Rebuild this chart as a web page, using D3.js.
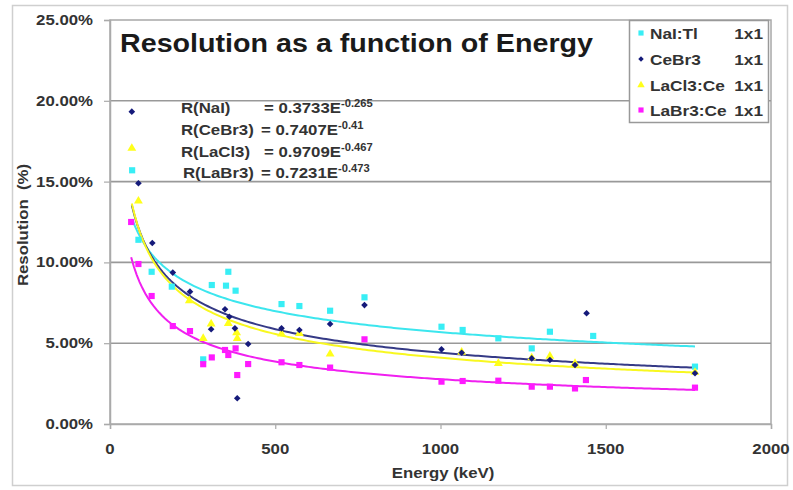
<!DOCTYPE html>
<html><head><meta charset="utf-8">
<script src="https://cdn.jsdelivr.net/npm/d3@7/dist/d3.min.js"></script>
<style>
body{margin:0;background:#fff;}
text{font-family:Arial,"Liberation Sans",sans-serif;font-weight:bold;white-space:pre;}
</style>
</head><body>
<svg id="c" width="793" height="490"></svg>
<script>
// ---------------- data ----------------
const seriesNames = ["NaI:Tl", "CeBr3", "LaCl3:Ce", "LaBr3:Ce"];
const seriesSizes = ["1x1", "1x1", "1x1", "1x1"];
const seriesColors = ["#38eef5", "#151a7a", "#ffff1a", "#ff1aff"];
const curveColors = ["#3ce6ee", "#353a86", "#f8f820", "#f020f0"];

// Energy (keV) and resolution (fraction)
const naiE = [67, 86, 126, 187, 282, 308, 351, 358, 380, 519, 573, 666, 770, 1003, 1067, 1175, 1276, 1331, 1462, 1770];
const naiR = [0.157, 0.114, 0.0942, 0.085, 0.040, 0.086, 0.0856, 0.0942, 0.0825, 0.0742, 0.073, 0.0701, 0.0784, 0.0602, 0.0582, 0.053, 0.0468, 0.0571, 0.0545, 0.0355];

const cebE = [66, 86, 128, 190, 242, 306, 348, 361, 378, 385, 418, 519, 573, 666, 770, 1003, 1064, 1276, 1331, 1407, 1442, 1770];
const cebR = [0.1933, 0.149, 0.112, 0.0937, 0.0819, 0.0586, 0.071, 0.0664, 0.0592, 0.0159, 0.0495, 0.0592, 0.0582, 0.0619, 0.0736, 0.0462, 0.0441, 0.0406, 0.0396, 0.0365, 0.0685, 0.0314];

const lacE = [66, 86, 240, 282, 306, 358, 383, 385, 519, 573, 666, 1064, 1175, 1276, 1331, 1407, 1770];
const lacR = [0.1706, 0.138, 0.0763, 0.053, 0.0619, 0.0623, 0.0565, 0.053, 0.0557, 0.056, 0.0433, 0.0445, 0.0375, 0.041, 0.042, 0.0375, 0.032];

const labE = [64, 86, 126, 190, 242, 282, 308, 348, 358, 380, 385, 418, 519, 573, 666, 770, 1003, 1067, 1175, 1276, 1331, 1407, 1440, 1770];
const labR = [0.125, 0.099, 0.0792, 0.0606, 0.0575, 0.037, 0.0412, 0.0458, 0.0427, 0.0468, 0.0303, 0.0371, 0.0382, 0.0365, 0.0349, 0.0524, 0.0262, 0.0266, 0.0268, 0.0231, 0.0231, 0.022, 0.0272, 0.0225];

// power trendline labels shown on the chart: R = a * E^b
const fitNames = ["R(NaI)", "R(CeBr3)", "R(LaCl3)", "R(LaBr3)"];
const fitALabels = ["0.3733", "0.7407", "0.9709", "0.7231"];
const fitBLabels = ["-0.265", "-0.41", "-0.467", "-0.473"];

const yTicks = [0, 0.05, 0.10, 0.15, 0.20, 0.25];
const xTicks = [0, 500, 1000, 1500, 2000];
const titleText = "Resolution as a function of Energy";
const xTitle = "Energy (keV)";
const yTitle = "Resolution  (%)";

// ---------------- layout ----------------
const svg = d3.select("#c");
const L = 110, R = 771, T = 20, B = 424;
const x = d3.scaleLinear().domain([0, 2000]).range([L, R]);
const y = d3.scaleLinear().domain([0, 0.25]).range([B, T]);
const SX = 1.2;

function txt(g, px, py, s, o = {}) {
  return g.append("text")
    .attr("transform", `translate(${px},${py}) rotate(${o.rot || 0}) scale(${o.sx || SX},1)`)
    .attr("text-anchor", o.anchor || "start")
    .style("font-size", (o.size || 14) + "px")
    .attr("fill", o.fill || "#333")
    .text(s);
}

// outer chart border
svg.append("rect").attr("x", 12.5).attr("y", 5.5).attr("width", 775).attr("height", 480)
  .attr("fill", "#fff").attr("stroke", "#cfcfcf").attr("stroke-width", 1.5);

// plot area
svg.append("rect").attr("x", L).attr("y", T).attr("width", R - L).attr("height", B - T)
  .attr("fill", "#fff").attr("stroke", "#a8a8a8").attr("stroke-width", 1.5);

// gridlines
svg.append("g").selectAll("line").data(yTicks.filter(d => d > 0 && d < 0.25)).join("line")
  .attr("x1", L).attr("x2", R).attr("y1", d => y(d)).attr("y2", d => y(d))
  .attr("stroke", "#999").attr("stroke-width", 1.6);

// axes
const yAxis = d3.axisLeft(y).tickValues(yTicks).tickSize(6).tickFormat("");
const xAxis = d3.axisBottom(x).tickValues(xTicks).tickSize(5).tickFormat("");
const gy = svg.append("g").attr("transform", `translate(${L},0)`).call(yAxis);
const gx = svg.append("g").attr("transform", `translate(0,${B})`).call(xAxis);
[gy, gx].forEach(g => {
  g.select(".domain").attr("stroke", "#aaa").attr("stroke-width", 1.5);
  g.selectAll(".tick line").attr("stroke", "#aaa").attr("stroke-width", 1.2);
});

const pct = d3.format(".2%");
yTicks.forEach(v => txt(svg, 93, y(v) + 5, pct(v), { anchor: "end", size: 14 }));
xTicks.forEach(v => txt(svg, x(v), 454, String(v), { anchor: "middle", size: 14 }));

txt(svg, 443, 478, xTitle, { anchor: "middle", size: 14 });
txt(svg, 28, 225, yTitle, { anchor: "middle", size: 14, rot: -90 });

// title
svg.append("text").attr("x", 120).attr("y", 52)
  .attr("textLength", 473).attr("lengthAdjust", "spacingAndGlyphs")
  .style("font-size", "25.5px").attr("fill", "#1a1a1a").text(titleText);

// trendlines: least-squares power fit (ln R vs ln E), as a spreadsheet does
const seriesE = [naiE, cebE, lacE, labE];
const seriesR = [naiR, cebR, lacR, labR];
function powerFit(E, Rv) {
  const lx = E.map(Math.log), ly = Rv.map(Math.log);
  const mx = d3.mean(lx), my = d3.mean(ly);
  const b = d3.sum(lx, (v, i) => (v - mx) * (ly[i] - my)) / d3.sum(lx, v => (v - mx) ** 2);
  const a = Math.exp(my - b * mx);
  return [a, b];
}
const line = d3.line().x(d => x(d[0])).y(d => y(d[1]));
[0, 1, 2, 3].forEach(i => {
  const [a, b] = powerFit(seriesE[i], seriesR[i]);
  const [e0, e1] = d3.extent(seriesE[i]);
  const pts = d3.range(0, 201).map(k => {
    const e = e0 + (e1 - e0) * k / 200;
    return [e, a * Math.pow(e, b)];
  });
  svg.append("path").datum(pts).attr("d", line)
    .attr("fill", "none").attr("stroke", curveColors[i]).attr("stroke-width", 2);
});

// markers
const diamond = d3.symbol().type(d3.symbolSquare).size(22);
function marker(i, scale) {
  if (i === 0 || i === 3) return d3.symbol().type(d3.symbolSquare).size(38 * scale)();
  if (i === 2) return d3.symbol().type(d3.symbolTriangle).size(34 * scale)();
  return d3.symbol().type(d3.symbolSquare).size(22 * scale)();
}
const rot = i => (i === 1 ? " rotate(45)" : "");
[0, 2, 1, 3].forEach(i => {
  const data = seriesE[i].map((e, k) => [e, seriesR[i][k]]);
  svg.append("g").selectAll("path").data(data).join("path")
    .attr("transform", d => `translate(${x(d[0])},${y(d[1])})${rot(i)}`)
    .attr("d", marker(i, 1))
    .attr("fill", seriesColors[i]);
});

// formulas
const fx = [181, 181, 181, 183];
const eqx = [264, 261, 264, 261];
const fy = [113, 135, 157, 178];
fitNames.forEach((n, i) => {
  txt(svg, fx[i], fy[i], n, { size: 15, sx: 1.12 });
  const t = txt(svg, eqx[i], fy[i], "", { size: 15, sx: 1.12 });
  t.append("tspan").text("= " + fitALabels[i] + "E");
  t.append("tspan").attr("dy", -6).style("font-size", "10px").text(fitBLabels[i]);
});

// legend
const lg = svg.append("g");
lg.append("rect").attr("x", 629.5).attr("y", 20.5).attr("width", 139).attr("height", 102)
  .attr("fill", "#fff").attr("stroke", "#999").attr("stroke-width", 1.5);
const ly = [33, 59, 85, 110];
seriesNames.forEach((n, i) => {
  lg.append("path").attr("transform", `translate(641,${ly[i]})${rot(i)}`)
    .attr("d", marker(i, 0.7))
    .attr("fill", seriesColors[i]);
  txt(lg, 650, ly[i] + 5.5, n, { size: 15, sx: 1.15 });
  txt(lg, 763, ly[i] + 5.5, seriesSizes[i], { size: 15, anchor: "end", sx: 1.15 });
});
</script>
</body></html>
